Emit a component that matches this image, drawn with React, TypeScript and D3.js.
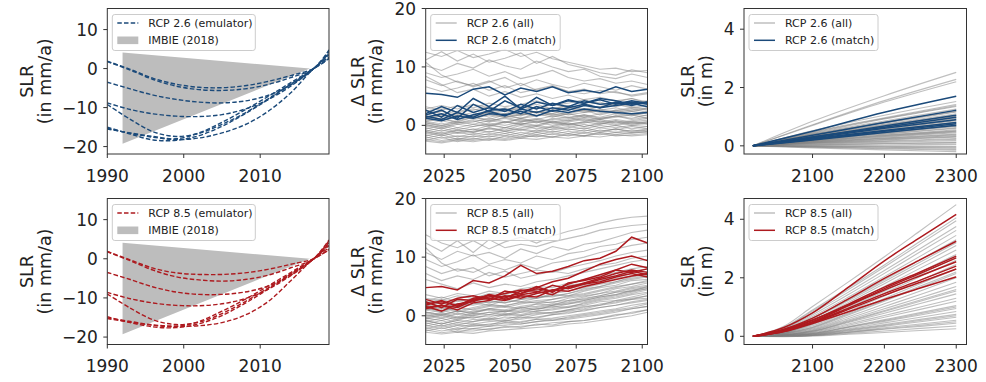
import React from "react";
import * as d3 from "d3";

const W = 986;
const H = 382;
const BLUE = "#1b4a7a";
const RED = "#ad1a1f";
const GRAY = "#808080";
const FONT = "DejaVu Sans, sans-serif";

// ---------- column 1: historical rates (mm/a) ----------
const histYears = [1990, 1993, 1996, 1999, 2002, 2005, 2008, 2011, 2014, 2017, 2019];

const rcp26Emulator = [
  [1.9, -0.2, -2.5, -4.0, -4.8, -4.9, -4.4, -3.3, -1.8, 0, 2.6],
  [1.8, -0.4, -2.8, -4.5, -5.4, -5.6, -5.2, -4.1, -2.3, 0, 4.8],
  [-3.5, -5.2, -6.8, -7.9, -8.6, -8.8, -8.3, -6.9, -4.2, 0, 3.6],
  [-8.8, -10.5, -11.6, -12.2, -12.3, -11.8, -10.4, -8.0, -4.5, 0, 4.0],
  [-9.2, -13.0, -16.2, -17.4, -16.6, -14.3, -11.4, -7.8, -4.0, 0, 3.9],
  [-15.0, -16.8, -18.3, -18.4, -17.2, -14.8, -11.6, -8.0, -4.0, 0, 4.4],
  [-15.3, -16.6, -17.6, -18.2, -17.8, -16.5, -14.4, -11.0, -6.2, 0, 3.0],
  [-15.5, -16.5, -17.4, -18.0, -16.5, -13.8, -10.6, -7.2, -3.6, 0, 2.6],
];

const rcp85Emulator = [
  [1.9, -0.3, -2.4, -3.6, -4.0, -4.0, -3.6, -2.7, -1.4, 0, 2.4],
  [1.8, -0.5, -2.9, -4.6, -5.4, -5.7, -5.3, -4.2, -2.3, 0, 4.6],
  [-3.5, -5.3, -7.2, -8.5, -9.1, -9.1, -8.5, -7.0, -4.2, 0, 3.4],
  [-8.6, -10.2, -11.3, -11.9, -12.0, -11.5, -10.2, -7.8, -4.3, 0, 3.8],
  [-9.0, -12.6, -15.6, -16.8, -16.2, -14.0, -11.0, -7.5, -3.8, 0, 4.2],
  [-14.8, -16.3, -17.4, -17.6, -16.6, -14.5, -11.4, -7.8, -3.9, 0, 4.8],
  [-15.1, -16.0, -16.9, -17.2, -17.1, -16.3, -14.4, -11.0, -5.6, 0, 2.8],
  [-15.3, -16.2, -17.0, -17.3, -16.0, -13.4, -10.4, -7.0, -3.5, 0, 2.2],
];

const imbieYears = [1992, 2016.5];
const imbieUpper = [4.1, 0];
const imbieLower = [-19.3, 0];

// ---------- column 2: future rate change (mm/a) ----------
const rateYears = [2018, 2024, 2030, 2036, 2042, 2048, 2054, 2060, 2066, 2072, 2078, 2084, 2090, 2096, 2102];

const rcp26RateAll = [
  [12.5, 11.8, 12.8, 11.6, 12.2, 13.0, 11.8, 12.5, 11.4, 10.8, 10.2, 9.6, 9.8, 9.2, 9.4],
  [11.2, 12.6, 11.0, 12.2, 10.8, 11.5, 12.4, 10.6, 11.8, 10.4, 9.8, 9.0, 8.6, 9.5, 9.0],
  [10.2, 9.4, 10.6, 9.8, 11.2, 10.2, 9.6, 11.0, 10.0, 9.2, 9.6, 8.4, 8.0, 8.8, 8.2],
  [9.0, 8.2, 8.8, 9.6, 8.4, 9.2, 8.0, 8.6, 9.4, 8.2, 7.6, 8.0, 7.2, 7.6, 7.0],
  [7.8, 6.8, 7.6, 6.6, 7.4, 8.2, 6.8, 7.8, 7.0, 6.4, 7.2, 6.6, 6.0, 6.8, 6.2],
  [6.6, 5.8, 6.4, 7.2, 6.0, 6.8, 5.6, 6.2, 6.8, 5.8, 5.4, 6.0, 5.6, 5.2, 5.6],
  [10.8, 8.6, 7.4, 6.8, 7.6, 6.4, 7.2, 6.0, 6.6, 5.8, 6.2, 5.4, 5.8, 5.0, 5.4],
  [8.4, 7.0, 5.6, 6.2, 5.0, 5.8, 4.8, 5.4, 4.6, 5.2, 4.4, 4.8, 4.2, 4.6, 4.0],
  [3.2, 2.6, 3.4, 3.0, 3.8, 3.2, 3.6, 4.2, 3.4, 3.8, 4.4, 3.6, 4.0, 4.6, 3.8],
  [2.6, 2.0, 2.4, 2.8, 2.2, 3.0, 2.6, 3.2, 2.8, 3.4, 2.8, 3.2, 3.6, 3.0, 3.4],
  [2.0, 1.4, 2.2, 1.6, 2.4, 2.0, 2.8, 2.2, 2.6, 3.0, 2.4, 2.8, 2.2, 2.6, 3.0],
  [1.4, 0.8, 1.6, 1.2, 1.8, 1.4, 2.0, 1.6, 2.4, 1.8, 2.2, 2.6, 2.0, 2.4, 2.0],
  [0.8, 1.2, 0.6, 1.4, 1.0, 1.8, 1.2, 1.6, 2.0, 1.4, 1.8, 1.2, 1.6, 2.0, 1.6],
  [0.4, -0.2, 0.6, 0.2, 0.8, 0.4, 1.2, 0.6, 1.0, 1.4, 0.8, 1.2, 1.6, 1.0, 1.4],
  [0.0, -0.6, 0.2, -0.2, 0.4, 0.0, 0.6, 1.0, 0.4, 0.8, 1.2, 0.6, 1.0, 0.6, 0.9],
  [-0.4, -1.0, -0.4, -0.8, 0.0, -0.4, 0.2, -0.2, 0.6, 0.2, 0.6, 0.2, 0.8, 0.4, 0.6],
  [-0.8, -1.4, -0.8, -1.2, -0.6, -1.0, -0.4, 0.0, -0.4, 0.2, -0.2, 0.4, 0.0, 0.4, 0.2],
  [-1.2, -1.8, -1.2, -1.6, -1.0, -1.4, -0.8, -1.2, -0.6, -0.2, -0.6, 0.0, -0.4, 0.0, -0.2],
  [-1.6, -2.2, -1.8, -2.0, -1.4, -1.8, -1.2, -1.6, -1.0, -1.4, -0.8, -1.2, -0.6, -1.0, -0.6],
  [-2.0, -2.6, -2.2, -2.4, -1.8, -2.2, -1.6, -2.0, -1.4, -1.8, -1.2, -1.6, -1.2, -1.4, -1.0],
  [-2.4, -2.8, -2.4, -2.6, -2.2, -2.4, -2.0, -1.8, -2.0, -1.6, -1.8, -1.4, -1.8, -1.6, -1.4],
  [-2.7, -3.0, -2.6, -2.8, -2.4, -2.6, -2.2, -2.4, -2.0, -2.2, -1.8, -2.0, -1.6, -1.8, -1.6],
  [1.8, 2.4, 1.6, 2.2, 1.4, 2.0, 1.6, 2.4, 1.8, 2.2, 2.8, 2.2, 2.6, 3.0, 2.6],
  [0.6, 0.0, 0.8, 1.4, 0.8, 1.2, 0.6, 1.0, 1.6, 1.2, 1.8, 1.4, 2.0, 1.6, 2.2],
  [-0.2, 0.4, -0.4, 0.2, -0.2, 0.6, 0.2, 0.8, 0.4, 0.0, 0.4, 0.8, 0.2, 0.6, 0.3],
  [-1.0, -0.4, -1.2, -0.6, -1.2, -0.4, -0.8, -0.2, -0.8, -0.4, 0.2, -0.4, 0.0, -0.6, -0.2],
  [2.8, 3.4, 2.8, 3.6, 3.0, 2.6, 3.2, 2.8, 3.6, 3.0, 3.4, 4.0, 3.2, 3.8, 4.2],
  [1.0, 1.6, 2.0, 1.4, 2.2, 1.6, 1.2, 2.0, 1.4, 2.0, 2.6, 1.8, 2.4, 2.8, 2.2],
  [-1.4, -0.8, -1.4, -1.0, -0.4, -1.0, -0.6, -1.0, -0.2, -0.8, -0.4, -1.0, -0.6, -1.2, -0.8],
  [0.2, 0.8, 0.2, 0.6, 1.2, 0.6, 0.2, 0.6, 0.0, 0.6, 1.0, 0.4, 0.8, 0.2, 0.6],
  [1.2, 1.8, 1.0, 1.6, 2.2, 1.4, 1.8, 2.4, 1.6, 2.0, 1.4, 2.0, 2.6, 1.8, 2.4],
  [-0.6, 0.0, -0.8, -0.2, 0.2, -0.4, 0.4, 0.0, 0.8, 0.2, 0.6, 1.0, 0.4, 0.8, 1.2],
  [2.4, 3.0, 2.2, 2.6, 3.2, 2.4, 3.0, 3.6, 2.8, 3.4, 2.6, 3.2, 3.8, 3.2, 2.8],
  [-1.8, -1.2, -2.0, -1.4, -1.6, -1.0, -1.6, -0.8, -1.2, -0.6, -1.0, -0.4, -0.8, -0.2, -0.6],
  [0.2, -0.4, 0.4, 0.8, 0.0, 0.6, 1.0, 0.4, 1.2, 0.8, 1.4, 1.0, 1.6, 1.2, 1.8],
  [-2.2, -1.6, -2.4, -1.8, -2.0, -1.4, -2.0, -1.2, -1.6, -1.0, -1.4, -0.8, -1.2, -0.8, -1.0],
  [1.6, 1.0, 1.8, 1.2, 2.0, 2.6, 1.8, 2.4, 2.0, 2.8, 2.2, 2.6, 3.0, 2.4, 2.8],
  [-1.0, -1.6, -0.8, -1.2, -0.4, -0.8, 0.0, -0.6, -0.2, 0.4, -0.2, 0.2, 0.6, 0.0, 0.4],
  [0.6, 1.2, 0.4, 1.0, 0.6, 1.4, 0.8, 1.2, 0.6, 1.0, 1.6, 1.0, 1.4, 1.8, 1.2],
  [-2.6, -2.0, -2.8, -2.2, -2.6, -1.8, -2.2, -1.6, -2.0, -1.4, -1.8, -1.2, -1.6, -1.2, -1.2],
];

const rcp26RateMatch = [
  [5.5, 5.3, 4.8, 6.2, 6.6, 5.2, 6.4, 5.8, 6.6, 5.6, 6.0, 5.6, 6.6, 5.8, 6.2],
  [1.8, 2.6, 1.2, 3.6, 2.4, 4.2, 3.0, 4.8, 3.4, 4.2, 3.8, 4.4, 3.6, 4.2, 3.8],
  [2.6, 1.4, 3.4, 2.2, 3.0, 2.4, 3.6, 2.8, 3.8, 3.2, 4.2, 3.6, 3.8, 4.0, 3.6],
  [1.4, 2.0, 1.0, 1.8, 2.4, 1.6, 2.8, 2.2, 3.0, 2.6, 3.4, 3.0, 4.0, 3.4, 4.0],
  [1.2, 0.8, 1.6, 1.2, 2.0, 1.8, 2.4, 1.6, 2.6, 2.2, 2.8, 2.4, 2.2, 2.0, 2.2],
  [2.0, 3.2, 2.2, 4.6, 3.2, 5.0, 2.8, 4.0, 3.4, 4.4, 3.8, 4.6, 4.2, 3.6, 4.0],
  [1.6, 1.0, 2.2, 1.4, 2.6, 2.8, 2.0, 3.2, 2.4, 3.0, 3.6, 3.0, 3.4, 3.8, 3.2],
];

const rcp85RateAll = [
  [13.8, 12.4, 11.6, 12.8, 11.4, 12.6, 13.4, 12.4, 13.6, 14.4, 15.0, 15.8, 16.4, 16.8, 17.0],
  [12.4, 11.0, 12.8, 10.8, 13.0, 11.6, 12.2, 11.8, 12.6, 13.2, 13.8, 14.6, 15.0, 15.4, 15.6],
  [10.8, 9.6, 11.0, 10.2, 10.8, 9.8, 11.4, 10.6, 11.8, 11.2, 12.2, 12.6, 13.4, 14.2, 14.6],
  [9.6, 8.4, 9.2, 10.4, 8.8, 9.6, 9.0, 10.2, 9.6, 10.6, 11.0, 11.8, 12.2, 13.0, 13.4],
  [8.4, 7.2, 8.0, 7.4, 8.6, 7.8, 8.8, 8.0, 9.0, 9.4, 10.0, 10.8, 11.4, 12.0, 12.4],
  [7.2, 6.0, 6.8, 6.2, 7.4, 6.6, 7.2, 7.8, 7.4, 8.2, 8.8, 9.4, 10.2, 10.8, 11.2],
  [11.6, 9.0, 7.6, 8.2, 6.8, 7.6, 6.4, 7.0, 7.6, 7.2, 8.0, 8.6, 9.0, 9.8, 10.2],
  [6.2, 5.4, 4.6, 5.6, 4.8, 5.4, 5.0, 5.8, 6.2, 6.8, 7.4, 8.0, 8.6, 9.2, 9.6],
  [3.0, 2.6, 3.4, 3.0, 3.8, 3.6, 4.2, 4.6, 4.4, 5.2, 5.6, 6.4, 6.8, 7.6, 8.0],
  [2.4, 2.0, 2.6, 2.4, 3.0, 3.4, 3.2, 3.8, 4.2, 4.6, 5.2, 5.6, 6.4, 6.8, 7.2],
  [1.8, 1.2, 2.0, 1.8, 2.4, 2.2, 2.8, 3.0, 3.4, 3.8, 4.4, 5.0, 5.6, 6.2, 6.6],
  [1.2, 0.6, 1.4, 1.0, 1.6, 1.8, 2.2, 2.6, 2.8, 3.4, 3.8, 4.4, 5.0, 5.4, 6.0],
  [0.6, 0.2, 0.8, 0.6, 1.2, 1.0, 1.6, 2.0, 2.4, 2.6, 3.2, 3.8, 4.2, 4.8, 5.2],
  [0.2, -0.4, 0.4, 0.0, 0.6, 0.8, 1.0, 1.4, 1.8, 2.2, 2.6, 3.2, 3.6, 4.2, 4.6],
  [-0.4, -0.8, -0.2, -0.4, 0.2, 0.0, 0.6, 0.8, 1.2, 1.6, 2.0, 2.6, 3.0, 3.6, 4.0],
  [-0.8, -1.4, -0.8, -1.0, -0.4, -0.6, 0.0, 0.4, 0.6, 1.0, 1.4, 2.0, 2.4, 3.0, 3.4],
  [-1.2, -1.8, -1.2, -1.4, -1.0, -0.8, -0.6, -0.2, 0.2, 0.4, 1.0, 1.4, 1.8, 2.4, 2.8],
  [-1.6, -2.2, -1.6, -1.8, -1.4, -1.2, -1.0, -0.6, -0.4, 0.0, 0.4, 0.8, 1.2, 1.8, 2.2],
  [-2.0, -2.6, -2.2, -2.2, -1.8, -1.6, -1.4, -1.0, -0.8, -0.6, -0.2, 0.2, 0.6, 1.2, 1.6],
  [-2.4, -2.9, -2.6, -2.6, -2.2, -2.0, -1.8, -1.6, -1.2, -1.0, -0.8, -0.4, 0.0, 0.6, 1.0],
  [-2.8, -3.1, -2.8, -3.0, -2.6, -2.4, -2.2, -2.0, -1.8, -1.4, -1.2, -0.8, -0.4, 0.0, 0.6],
  [2.2, 2.8, 2.0, 2.6, 2.2, 2.8, 3.4, 3.0, 3.8, 4.2, 4.8, 5.4, 5.8, 6.6, 7.0],
  [0.8, 1.4, 0.6, 1.2, 1.8, 1.4, 2.0, 2.4, 2.2, 3.0, 3.4, 3.8, 4.6, 5.0, 5.6],
  [-0.2, 0.4, -0.4, 0.4, 0.2, 0.8, 0.6, 1.2, 1.6, 1.4, 2.2, 2.8, 3.2, 3.8, 4.4],
  [-1.0, -0.4, -1.2, -0.6, -0.8, -0.2, -0.4, 0.2, 0.6, 0.8, 1.2, 1.8, 2.2, 2.8, 3.0],
  [3.6, 3.0, 3.8, 3.4, 4.2, 3.8, 4.6, 5.0, 4.8, 5.6, 6.2, 6.8, 7.4, 8.0, 8.4],
  [1.6, 2.2, 1.4, 2.0, 2.6, 2.2, 2.8, 3.4, 3.2, 3.8, 4.6, 5.0, 5.8, 6.4, 6.8],
  [-1.8, -1.2, -2.0, -1.4, -1.6, -0.8, -1.2, -0.6, -0.8, -0.2, 0.2, 0.6, 1.0, 1.4, 2.0],
  [0.4, 1.0, 0.2, 0.8, 1.2, 0.8, 1.4, 1.0, 1.8, 2.0, 2.6, 3.2, 3.6, 4.4, 4.8],
  [-0.6, 0.0, -0.8, 0.0, -0.2, 0.4, 0.2, 0.8, 1.0, 1.4, 1.8, 2.4, 2.6, 3.2, 3.8],
  [1.0, 1.6, 0.8, 1.4, 2.0, 1.6, 2.4, 2.2, 2.8, 3.2, 3.6, 4.2, 4.8, 5.4, 5.8],
  [-0.4, 0.2, -0.6, 0.2, 0.6, 0.2, 0.8, 1.2, 1.4, 2.0, 2.4, 3.0, 3.4, 4.0, 4.6],
  [2.6, 3.2, 2.4, 3.0, 3.6, 3.2, 3.8, 4.4, 4.2, 5.0, 5.6, 6.0, 6.8, 7.2, 7.6],
  [-2.2, -1.6, -2.4, -1.6, -1.8, -1.2, -1.4, -1.0, -0.6, -0.4, 0.0, 0.4, 0.8, 1.2, 1.6],
  [0.0, 0.6, -0.2, 0.6, 1.0, 0.6, 1.4, 1.6, 2.0, 2.4, 3.0, 3.4, 4.0, 4.6, 5.0],
  [-1.4, -0.8, -1.6, -1.0, -0.6, -1.0, -0.2, -0.4, 0.2, 0.6, 0.8, 1.4, 1.8, 2.2, 2.6],
  [1.4, 0.8, 1.6, 2.2, 1.8, 2.6, 2.4, 3.0, 3.6, 3.4, 4.2, 4.8, 5.2, 6.0, 6.2],
  [-0.8, -1.4, -0.6, -0.2, -0.6, 0.2, 0.0, 0.6, 0.4, 1.0, 1.6, 1.8, 2.6, 2.8, 3.4],
  [0.6, 0.0, 0.8, 0.4, 1.2, 1.6, 1.2, 2.0, 1.8, 2.6, 2.8, 3.4, 4.0, 4.2, 5.0],
  [-2.6, -2.0, -2.8, -2.2, -2.4, -1.8, -2.0, -1.4, -1.6, -1.0, -0.8, -0.4, 0.2, 0.4, 1.0],
];

const rcp85RateMatch = [
  [4.8, 5.0, 4.4, 6.0, 5.6, 6.8, 8.6, 7.2, 7.6, 8.4, 9.4, 9.8, 11.0, 13.4, 12.4],
  [1.8, 2.6, 1.6, 3.0, 3.4, 3.0, 4.2, 4.8, 5.8, 6.4, 7.6, 8.8, 9.6, 10.2, 9.4],
  [2.4, 1.4, 2.8, 2.6, 3.6, 3.2, 3.8, 4.6, 4.2, 5.4, 6.2, 7.0, 7.8, 8.8, 8.2],
  [1.2, 1.8, 1.0, 2.2, 2.6, 3.4, 3.0, 3.8, 4.4, 4.8, 5.6, 6.4, 7.2, 7.8, 7.4],
  [1.6, 0.8, 2.0, 2.4, 3.6, 2.8, 3.6, 4.0, 5.2, 4.6, 5.4, 5.8, 6.6, 7.2, 6.6],
  [2.8, 2.0, 3.0, 3.4, 2.8, 4.2, 3.8, 5.0, 4.0, 5.6, 6.0, 6.6, 7.8, 7.4, 8.0],
  [1.4, 1.8, 1.4, 2.6, 3.0, 2.6, 3.4, 3.2, 4.4, 4.2, 5.0, 5.6, 6.2, 6.8, 7.2],
  [2.0, 2.4, 1.8, 2.8, 3.2, 3.8, 4.4, 4.2, 3.6, 5.0, 5.4, 6.2, 6.8, 7.6, 7.0],
];

// ---------- column 3: cumulative sea level (m) ----------
const slr26Years = [2017, 2100, 2200, 2300];

const rcp26SlrAll = [
  [0, 0.84, 1.72, 2.52], [0, 0.72, 1.55, 2.28], [0, 0.7, 1.5, 2.2],
  [0, 0.52, 1.05, 1.52], [0, 0.48, 0.96, 1.42], [0, 0.44, 0.92, 1.35],
  [0, 0.42, 0.85, 1.26], [0, 0.38, 0.78, 1.16], [0, 0.35, 0.72, 1.06],
  [0, 0.32, 0.66, 0.98], [0, 0.3, 0.62, 0.92], [0, 0.28, 0.57, 0.86],
  [0, 0.27, 0.53, 0.8], [0, 0.25, 0.5, 0.75], [0, 0.24, 0.47, 0.7],
  [0, 0.21, 0.42, 0.62], [0, 0.19, 0.37, 0.55], [0, 0.17, 0.34, 0.5],
  [0, 0.15, 0.3, 0.45], [0, 0.14, 0.27, 0.4], [0, 0.12, 0.24, 0.35],
  [0, 0.1, 0.2, 0.3], [0, 0.09, 0.17, 0.25], [0, 0.06, 0.12, 0.18],
  [0, 0.03, 0.07, 0.1], [0, 0.01, 0.03, 0.05], [0, -0.01, -0.01, -0.02],
  [0, -0.03, -0.05, -0.08], [0, -0.05, -0.1, -0.15], [0, -0.07, -0.14, -0.2],
  [0, 0.4, 0.82, 1.2], [0, 0.33, 0.7, 1.02], [0, 0.22, 0.45, 0.66],
  [0, 0.46, 0.94, 1.38], [0, 0.4, 0.8, 1.18], [0, 0.36, 0.74, 1.1],
  [0, 0.33, 0.67, 1.0], [0, 0.31, 0.63, 0.94], [0, 0.29, 0.58, 0.88],
  [0, 0.26, 0.54, 0.82], [0, 0.23, 0.48, 0.72], [0, 0.22, 0.45, 0.68],
  [0, 0.2, 0.4, 0.6], [0, 0.18, 0.36, 0.52], [0, 0.16, 0.32, 0.48],
  [0, 0.13, 0.26, 0.38], [0, 0.11, 0.22, 0.32], [0, 0.08, 0.15, 0.22],
  [0, 0.04, 0.08, 0.12], [0, -0.02, -0.03, -0.05], [0, -0.04, -0.08, -0.12],
];

const rcp26SlrMatch = [
  [0, 0.5, 1.15, 1.7], [0, 0.36, 0.8, 1.22], [0, 0.3, 0.68, 1.05],
  [0, 0.3, 0.64, 0.98], [0, 0.27, 0.6, 0.9], [0, 0.24, 0.53, 0.8],
  [0, 0.2, 0.46, 0.7], [0, 0.22, 0.5, 0.76],
];

const slr85Years = [2017, 2060, 2100, 2150, 2200, 2250, 2300];

const rcp85SlrAll = [
  [0, 0.34, 1.02, 1.86, 2.72, 3.61, 4.5],
  [0, 0.28, 0.86, 1.6, 2.37, 3.16, 3.95],
  [0, 0.26, 0.8, 1.51, 2.25, 3.0, 3.75],
  [0, 0.24, 0.74, 1.43, 2.15, 2.89, 3.62],
  [0, 0.22, 0.68, 1.34, 2.04, 2.74, 3.45],
  [0, 0.2, 0.62, 1.26, 1.93, 2.62, 3.3],
  [0, 0.18, 0.55, 1.16, 1.8, 2.45, 3.1],
  [0, 0.16, 0.5, 1.09, 1.7, 2.33, 2.95],
  [0, 0.14, 0.45, 1.01, 1.6, 2.2, 2.8],
  [0, 0.12, 0.4, 0.93, 1.48, 2.04, 2.6],
  [0, 0.11, 0.36, 0.86, 1.38, 1.92, 2.45],
  [0, 0.1, 0.32, 0.8, 1.29, 1.8, 2.3],
  [0, 0.09, 0.28, 0.73, 1.2, 1.67, 2.15],
  [0, 0.08, 0.25, 0.67, 1.11, 1.55, 2.0],
  [0, 0.07, 0.22, 0.61, 1.02, 1.43, 1.85],
  [0, 0.06, 0.2, 0.56, 0.94, 1.32, 1.7],
  [0, 0.05, 0.17, 0.5, 0.85, 1.2, 1.55],
  [0, 0.05, 0.16, 0.47, 0.79, 1.12, 1.45],
  [0, 0.04, 0.14, 0.42, 0.71, 1.0, 1.3],
  [0, 0.04, 0.12, 0.38, 0.65, 0.92, 1.2],
  [0, 0.03, 0.1, 0.33, 0.57, 0.81, 1.05],
  [0, 0.03, 0.09, 0.3, 0.51, 0.73, 0.95],
  [0, 0.02, 0.08, 0.26, 0.46, 0.65, 0.85],
  [0, 0.02, 0.07, 0.23, 0.4, 0.58, 0.75],
  [0, 0.01, 0.05, 0.19, 0.34, 0.5, 0.65],
  [0, 0.01, 0.04, 0.16, 0.29, 0.42, 0.55],
  [0, 0.0, 0.03, 0.13, 0.24, 0.34, 0.45],
  [0, 0.0, 0.02, 0.1, 0.18, 0.27, 0.35],
  [0, -0.01, 0.01, 0.07, 0.13, 0.2, 0.26],
  [0, 0.3, 0.9, 1.66, 2.44, 3.25, 4.05],
  [0, 0.19, 0.6, 1.22, 1.87, 2.54, 3.2],
  [0, 0.13, 0.42, 0.97, 1.54, 2.12, 2.7],
  [0, 0.1, 0.3, 0.76, 1.23, 1.72, 2.2],
  [0, 0.05, 0.18, 0.52, 0.88, 1.24, 1.6],
  [0, 0.03, 0.1, 0.32, 0.54, 0.77, 1.0],
  [0, 0.02, 0.06, 0.21, 0.37, 0.54, 0.7],
  [0, 0.01, 0.03, 0.14, 0.26, 0.38, 0.5],
];

const rcp85SlrMatch = [
  [0, 0.3, 0.8, 1.68, 2.58, 3.38, 4.17],
  [0, 0.24, 0.62, 1.28, 1.98, 2.62, 3.25],
  [0, 0.2, 0.55, 1.1, 1.68, 2.2, 2.74],
  [0, 0.18, 0.5, 1.05, 1.63, 2.15, 2.68],
  [0, 0.16, 0.46, 0.92, 1.4, 1.85, 2.3],
  [0, 0.16, 0.44, 0.84, 1.26, 1.65, 2.03],
  [0, 0.22, 0.56, 1.06, 1.58, 2.07, 2.55],
  [0, 0.18, 0.48, 0.96, 1.46, 1.92, 2.4],
];

// tick values
const histTicksX = [1990, 2000, 2010];
const histTicksY = [-20, -10, 0, 10];
const rateTicksX = [2025, 2050, 2075, 2100];
const rateTicksY = [0, 10, 20];
const slrTicksX = [2100, 2200, 2300];
const slrTicksY = [0, 2, 4];

// layout of the 2x3 grid (pixels)
const COLS = [
  { left: 107.3, right: 329, labelX: [33, 51] },
  { left: 425.7, right: 647.5, labelX: [363.5, 382] },
  { left: 744, right: 966.5, labelX: [693.5, 712] },
];
const ROWS = [
  { top: 8.5, bottom: 154 },
  { top: 198.5, bottom: 344.5 },
];

type LegendItem = { label: string; kind: "dash" | "patch" | "line"; color: string; opacity?: number };

const Legend = ({ x, y, width, items }: { x: number; y: number; width: number; items: LegendItem[] }) => (
  <g transform={`translate(${x},${y})`}>
    <rect x={0} y={0} width={width} height={36} rx={2.5} fill="white" fillOpacity={0.8} stroke="#cccccc" strokeWidth={1} />
    {items.map((it, i) => {
      const cy = 8.5 + i * 17.3;
      return (
        <g key={it.label}>
          {it.kind === "patch" ? (
            <rect x={5} y={cy - 3.8} width={21} height={7.6} fill="#bdbdbd" />
          ) : (
            <line
              x1={5}
              x2={26}
              y1={cy}
              y2={cy}
              stroke={it.color}
              strokeOpacity={it.opacity ?? 1}
              strokeWidth={it.kind === "dash" ? 1.3 : 1.5}
              strokeDasharray={it.kind === "dash" ? "4.5,2.2" : undefined}
            />
          )}
          <text x={36} y={cy} dy="0.35em" fontSize={11} fill="#222" fontFamily={FONT}>
            {it.label}
          </text>
        </g>
      );
    })}
  </g>
);

type PanelProps = {
  col: number;
  row: number;
  xDomain: [number, number];
  yDomain: [number, number];
  xTicks: number[];
  yTicks: number[];
  labels: string[];
  legendWidth: number;
  legend: LegendItem[];
  draw: (x: d3.ScaleLinear<number, number>, y: d3.ScaleLinear<number, number>) => React.ReactNode;
};

const Panel = ({ col, row, xDomain, yDomain, xTicks, yTicks, labels, legendWidth, legend, draw }: PanelProps) => {
  const c = COLS[col];
  const r = ROWS[row];
  const x = d3.scaleLinear().domain(xDomain).range([c.left, c.right]);
  const y = d3.scaleLinear().domain(yDomain).range([r.bottom, r.top]);
  const clipId = `clip-${col}-${row}`;
  const cy = (r.top + r.bottom) / 2;
  return (
    <g>
      <defs>
        <clipPath id={clipId}>
          <rect x={c.left} y={r.top} width={c.right - c.left} height={r.bottom - r.top} />
        </clipPath>
      </defs>
      <g clipPath={`url(#${clipId})`}>{draw(x, y)}</g>
      <rect x={c.left} y={r.top} width={c.right - c.left} height={r.bottom - r.top} fill="none" stroke="#333" strokeWidth={1} />
      {yTicks.map((t) => (
        <g key={`y${t}`}>
          <line x1={c.left - 4} x2={c.left} y1={y(t)} y2={y(t)} stroke="#333" />
          <text x={c.left - 9.5} y={y(t)} dy="0.36em" textAnchor="end" fontSize={17} fontFamily={FONT} fill="#222">
            {t < 0 ? `\u2212${Math.abs(t)}` : t}
          </text>
        </g>
      ))}
      {xTicks.map((t) => (
        <g key={`x${t}`}>
          <line x1={x(t)} x2={x(t)} y1={r.bottom} y2={r.bottom + 4} stroke="#333" />
          <text x={x(t)} y={r.bottom + 27.5} textAnchor="middle" fontSize={17} fontFamily={FONT} fill="#222">
            {t}
          </text>
        </g>
      ))}
      {labels.map((l, i) => (
        <text
          key={l}
          x={c.labelX[i]}
          y={cy}
          transform={`rotate(-90, ${c.labelX[i]}, ${cy})`}
          textAnchor="middle"
          fontSize={17.5}
          fontFamily={FONT}
          fill="#222"
        >
          {l}
        </text>
      ))}
      <Legend x={c.left + 5} y={r.top + 6} width={legendWidth} items={legend} />
    </g>
  );
};

const histPanel = (row: number, series: number[][], color: string, label: string) => (
  <Panel
    col={0}
    row={row}
    xDomain={[1990, 2019]}
    yDomain={[-21.9, 15.4]}
    xTicks={histTicksX}
    yTicks={histTicksY}
    labels={["SLR", "(in mm/a)"]}
    legendWidth={143}
    legend={[
      { label, kind: "dash", color },
      { label: "IMBIE (2018)", kind: "patch", color: "#bdbdbd" },
    ]}
    draw={(x, y) => {
      const area = d3
        .area<number>()
        .x((_, i) => x(imbieYears[i]))
        .y0((_, i) => y(imbieLower[i]))
        .y1((d) => y(d));
      const line = d3
        .line<number>()
        .x((_, i) => x(histYears[i]))
        .y((d) => y(d))
        .curve(d3.curveCatmullRom.alpha(0.5));
      return (
        <g>
          <path d={area(imbieUpper) ?? ""} fill="#bdbdbd" />
          {series.map((s, i) => (
            <path key={i} d={line(s) ?? ""} fill="none" stroke={color} strokeWidth={1.4} strokeDasharray="4.5,2.2" />
          ))}
        </g>
      );
    }}
  />
);

const ensemblePanel = (
  col: number,
  row: number,
  years: number[],
  all: number[][],
  match: number[][],
  color: string,
  scen: string,
  opts: { xDomain: [number, number]; yDomain: [number, number]; xTicks: number[]; yTicks: number[]; labels: string[]; legendWidth: number; smooth: boolean }
) => (
  <Panel
    col={col}
    row={row}
    xDomain={opts.xDomain}
    yDomain={opts.yDomain}
    xTicks={opts.xTicks}
    yTicks={opts.yTicks}
    labels={opts.labels}
    legendWidth={opts.legendWidth}
    legend={[
      { label: `${scen} (all)`, kind: "line", color: GRAY, opacity: 0.5 },
      { label: `${scen} (match)`, kind: "line", color },
    ]}
    draw={(x, y) => {
      const line = d3
        .line<number>()
        .x((_, i) => x(years[i]))
        .y((d) => y(d))
        .curve(opts.smooth ? d3.curveMonotoneX : d3.curveLinear);
      return (
        <g>
          {all.map((s, i) => (
            <path key={`a${i}`} d={line(s) ?? ""} fill="none" stroke={GRAY} strokeOpacity={0.5} strokeWidth={1.1} />
          ))}
          {match.map((s, i) => (
            <path key={`m${i}`} d={line(s) ?? ""} fill="none" stroke={color} strokeWidth={1.5} />
          ))}
        </g>
      );
    }}
  />
);

const rateOpts = {
  xDomain: [2018, 2102] as [number, number],
  yDomain: [-4.9, 20] as [number, number],
  xTicks: rateTicksX,
  yTicks: rateTicksY,
  labels: ["\u0394 SLR", "(in mm/a)"],
  legendWidth: 129.5,
  smooth: false,
};

const slrOpts = {
  xDomain: [2004.6, 2314.3] as [number, number],
  yDomain: [-0.28, 4.71] as [number, number],
  xTicks: slrTicksX,
  yTicks: slrTicksY,
  labels: ["SLR", "(in m)"],
  legendWidth: 129,
  smooth: true,
};

export default function App() {
  return (
    <svg width={W} height={H} style={{ position: "absolute", left: 0, top: 0, background: "white" }}>
      {histPanel(0, rcp26Emulator, BLUE, "RCP 2.6 (emulator)")}
      {histPanel(1, rcp85Emulator, RED, "RCP 8.5 (emulator)")}
      {ensemblePanel(1, 0, rateYears, rcp26RateAll, rcp26RateMatch, BLUE, "RCP 2.6", rateOpts)}
      {ensemblePanel(1, 1, rateYears, rcp85RateAll, rcp85RateMatch, RED, "RCP 8.5", rateOpts)}
      {ensemblePanel(2, 0, slr26Years, rcp26SlrAll, rcp26SlrMatch, BLUE, "RCP 2.6", slrOpts)}
      {ensemblePanel(2, 1, slr85Years, rcp85SlrAll, rcp85SlrMatch, RED, "RCP 8.5", slrOpts)}
    </svg>
  );
}
